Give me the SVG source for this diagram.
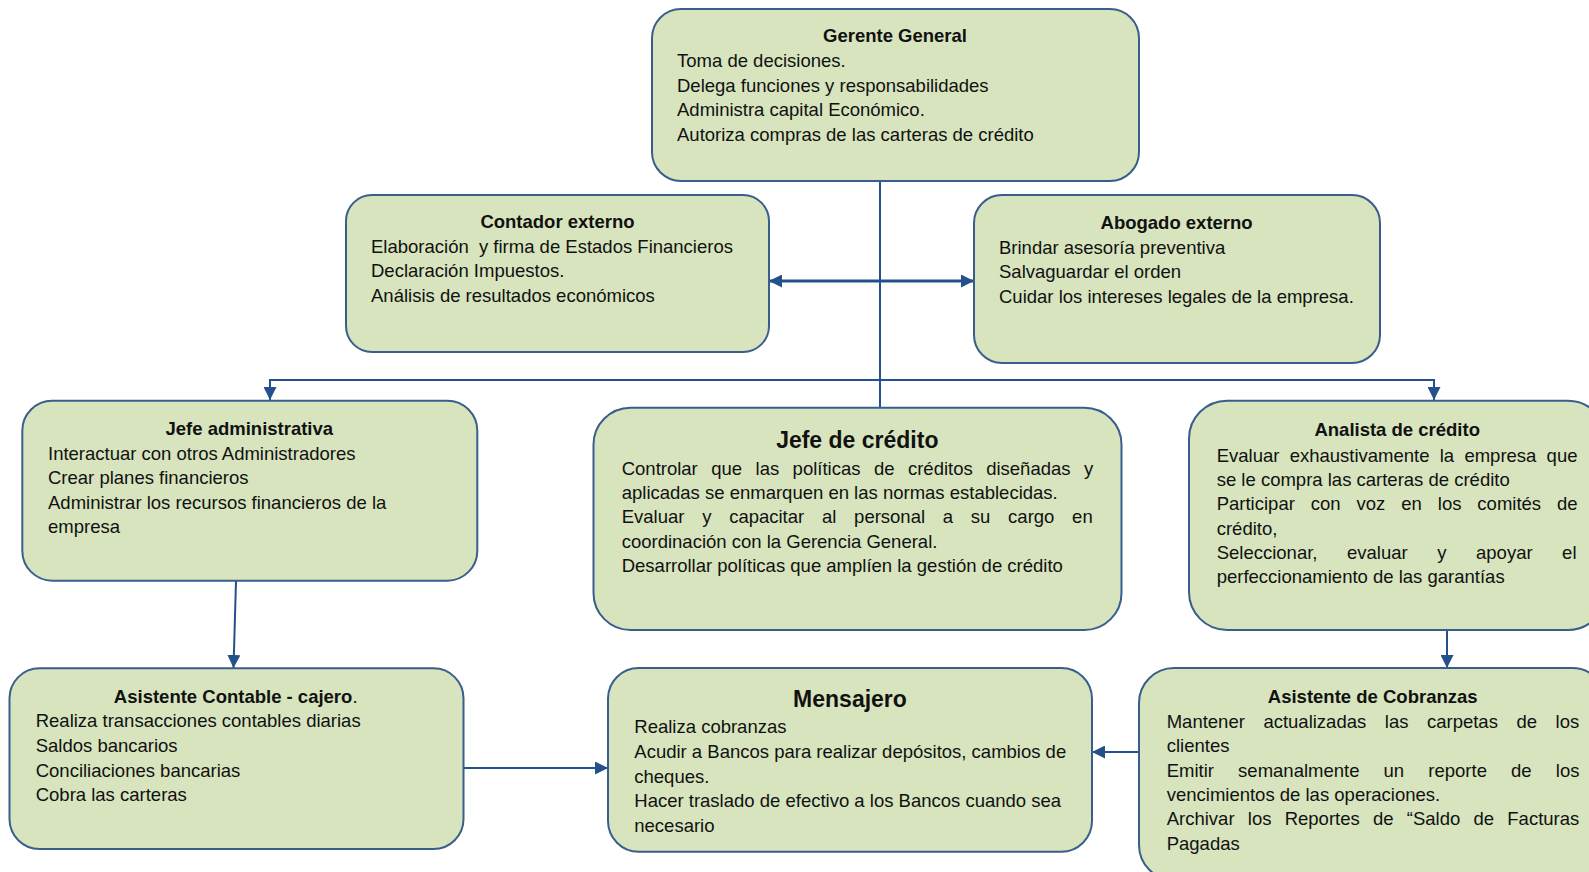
<svg xmlns="http://www.w3.org/2000/svg" width="1589" height="872" viewBox="0 0 1589 872">
  <style>
    .box { fill: #D7E4BD; stroke: #3A5E8C; stroke-width: 2; }
    .ttl { font-family: "Liberation Sans", Arial, sans-serif; font-size: 18.5px; font-weight: bold; fill: #111; text-anchor: middle; }
    .big { font-family: "Liberation Sans", Arial, sans-serif; font-size: 23px; font-weight: bold; fill: #111; text-anchor: middle; }
    .txt { font-family: "Liberation Sans", Arial, sans-serif; font-size: 18.5px; fill: #111; }
    .con { fill: none; stroke: #24508C; stroke-width: 2; }
    .thick { stroke-width: 3; }
  </style>
  <defs>
    <marker id="ah" markerUnits="userSpaceOnUse" markerWidth="13" markerHeight="13" viewBox="0 0 13 13" refX="13" refY="6.5" orient="auto-start-reverse">
      <path d="M0,0 L13,6.5 L0,13 z" fill="#24508C"/>
    </marker>
  </defs>

  <!-- connectors -->
  <g id="connectors">
    <line class="con" x1="880" y1="181" x2="880" y2="407"/>
    <line class="con thick" x1="769" y1="281" x2="974" y2="281" marker-start="url(#ah)" marker-end="url(#ah)"/>
    <path class="con" d="M270,400 L270,380 L1434,380 L1434,400" marker-start="url(#ah)" marker-end="url(#ah)"/>
    <line class="con" x1="236" y1="581" x2="233.5" y2="668" marker-end="url(#ah)"/>
    <line class="con" x1="1447" y1="630" x2="1447" y2="668" marker-end="url(#ah)"/>
    <line class="con" x1="463" y1="768" x2="608" y2="768" marker-end="url(#ah)"/>
    <line class="con" x1="1139" y1="752" x2="1092" y2="752" marker-end="url(#ah)"/>
  </g>

  <!-- Gerente General -->
  <g id="gerente">
    <rect class="box" x="652" y="9" width="487" height="172" rx="29" ry="29"/>
    <text class="ttl" x="895" y="42">Gerente General</text>
    <text class="txt" x="677" y="67">Toma de decisiones.</text>
    <text class="txt" x="677" y="91.6">Delega funciones y responsabilidades</text>
    <text class="txt" x="677" y="116.2">Administra capital Económico.</text>
    <text class="txt" x="677" y="140.8">Autoriza compras de las carteras de crédito</text>
  </g>

  <!-- Contador externo -->
  <g id="contador">
    <rect class="box" x="346" y="195" width="423" height="157" rx="26" ry="26"/>
    <text class="ttl" x="557.5" y="227.7">Contador externo</text>
    <text class="txt" x="371" y="252.7" xml:space="preserve">Elaboración  y firma de Estados Financieros</text>
    <text class="txt" x="371" y="277.3">Declaración Impuestos.</text>
    <text class="txt" x="371" y="301.7">Análisis de resultados económicos</text>
  </g>

  <!-- Abogado externo -->
  <g id="abogado">
    <rect class="box" x="974" y="195" width="406" height="168" rx="28" ry="28"/>
    <text class="ttl" x="1176.6" y="228.5">Abogado externo</text>
    <text class="txt" x="999" y="253.5">Brindar asesoría preventiva</text>
    <text class="txt" x="999" y="278">Salvaguardar el orden</text>
    <text class="txt" x="999" y="302.5">Cuidar los intereses legales de la empresa.</text>
  </g>

  <!-- Jefe administrativa -->
  <g id="jefe-admin">
    <rect class="box" x="22.3" y="400.7" width="455" height="180" rx="30" ry="30"/>
    <text class="ttl" x="249.3" y="435">Jefe administrativa</text>
    <text class="txt" x="48" y="460">Interactuar con otros Administradores</text>
    <text class="txt" x="48" y="484.3">Crear planes financieros</text>
    <text class="txt" x="48" y="508.5">Administrar los recursos financieros de la</text>
    <text class="txt" x="48" y="532.7">empresa</text>
  </g>

  <!-- Jefe de crédito -->
  <g id="jefe-credito">
    <rect class="box" x="593.5" y="407.7" width="528" height="222.3" rx="37" ry="37"/>
    <text class="big" x="857.3" y="448.3">Jefe de crédito</text>
    <text class="txt" x="621.7" y="475" word-spacing="8.3">Controlar que las políticas de créditos diseñadas y</text>
    <text class="txt" x="621.7" y="499">aplicadas se enmarquen en las normas establecidas.</text>
    <text class="txt" x="621.7" y="523.3" word-spacing="12.6">Evaluar y capacitar al personal a su cargo en</text>
    <text class="txt" x="621.7" y="547.7">coordinación con la Gerencia General.</text>
    <text class="txt" x="621.7" y="571.7">Desarrollar políticas que amplíen la gestión de crédito</text>
  </g>

  <!-- Analista de crédito -->
  <g id="analista">
    <rect class="box" x="1189" y="400.7" width="417" height="229.3" rx="38" ry="38"/>
    <text class="ttl" x="1397.2" y="436">Analista de crédito</text>
    <text class="txt" x="1216.7" y="461.7" word-spacing="5.1">Evaluar exhaustivamente la empresa que</text>
    <text class="txt" x="1216.7" y="486">se le compra las carteras de crédito</text>
    <text class="txt" x="1216.7" y="510" word-spacing="10.8">Participar con voz en los comités de</text>
    <text class="txt" x="1216.7" y="534.5">crédito,</text>
    <text class="txt" x="1216.7" y="558.5" word-spacing="24.4">Seleccionar, evaluar y apoyar el</text>
    <text class="txt" x="1216.7" y="583">perfeccionamiento de las garantías</text>
  </g>

  <!-- Asistente Contable - cajero -->
  <g id="asistente-contable">
    <rect class="box" x="9.5" y="668.3" width="454" height="180.7" rx="30" ry="30"/>
    <text class="ttl" x="235.7" y="702.7">Asistente Contable - cajero<tspan font-weight="normal">.</tspan></text>
    <text class="txt" x="35.7" y="727.3">Realiza transacciones contables diarias</text>
    <text class="txt" x="35.7" y="751.7">Saldos bancarios</text>
    <text class="txt" x="35.7" y="776.7">Conciliaciones bancarias</text>
    <text class="txt" x="35.7" y="800.7">Cobra las carteras</text>
  </g>

  <!-- Mensajero -->
  <g id="mensajero">
    <rect class="box" x="608" y="668" width="484" height="183.7" rx="30.6" ry="30.6"/>
    <text class="big" x="850" y="707">Mensajero</text>
    <text class="txt" x="634.3" y="733.3">Realiza cobranzas</text>
    <text class="txt" x="634.3" y="758">Acudir a Bancos para realizar depósitos, cambios de</text>
    <text class="txt" x="634.3" y="782.7">cheques.</text>
    <text class="txt" x="634.3" y="807.3">Hacer traslado de efectivo a los Bancos cuando sea</text>
    <text class="txt" x="634.3" y="831.7">necesario</text>
  </g>

  <!-- Asistente de Cobranzas -->
  <g id="asistente-cobranzas">
    <rect class="box" x="1139" y="668" width="468" height="212" rx="35" ry="35"/>
    <text class="ttl" x="1372.7" y="703">Asistente de Cobranzas</text>
    <text class="txt" x="1166.7" y="728" word-spacing="13.4">Mantener actualizadas las carpetas de los</text>
    <text class="txt" x="1166.7" y="752">clientes</text>
    <text class="txt" x="1166.7" y="776.7" word-spacing="19">Emitir semanalmente un reporte de los</text>
    <text class="txt" x="1166.7" y="801">vencimientos de las operaciones.</text>
    <text class="txt" x="1166.7" y="825" word-spacing="8.1">Archivar los Reportes de “Saldo de Facturas</text>
    <text class="txt" x="1166.7" y="850">Pagadas</text>
  </g>
</svg>
